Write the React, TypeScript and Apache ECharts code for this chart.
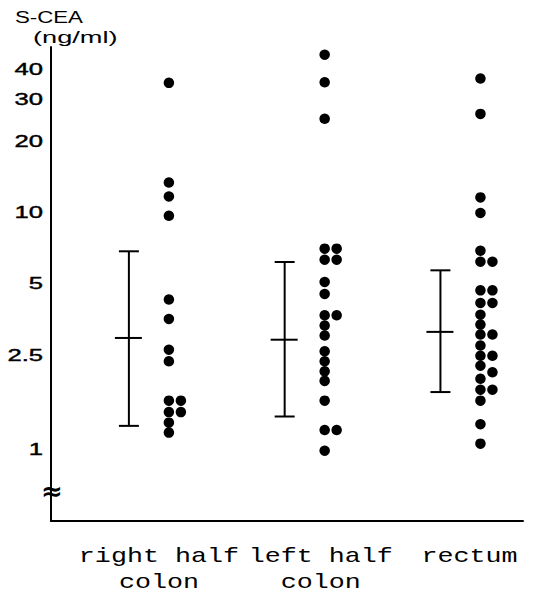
import React, { useEffect, useRef } from "react";
import * as echarts from "echarts";

// ---- data ----
const groups = ["right half\ncolon", "left half\ncolon", "rectum"];
const yTicks = [1, 2.5, 5, 10, 20, 30, 40];

// S-CEA values (ng/ml); "Side" holds the dots drawn beside the main column
const rightColonMain = [35.3, 13.4, 11.7, 9.7, 4.3, 3.56, 2.64, 2.36, 1.61, 1.44, 1.3, 1.18];
const rightColonSide = [1.61, 1.44];
const leftColonMain = [46.4, 35.5, 24.9, 7.05, 6.33, 5.1, 4.54, 3.69, 3.34, 3.03, 2.6, 2.36, 2.14, 1.95, 1.61, 1.21, 0.99];
const leftColonSide = [7.05, 6.33, 3.69, 1.21];
const rectumMain = [36.8, 26.1, 11.6, 9.97, 6.91, 6.21, 4.7, 4.16, 3.71, 3.37, 3.06, 2.75, 2.49, 2.26, 1.99, 1.79, 1.61, 1.28, 1.06];
const rectumSide = [6.21, 4.7, 4.16, 3.06, 2.49, 2.12, 1.79];

// mean and mean±SD range
const meanValues = [2.96, 2.91, 3.14];
const upperValues = [6.87, 6.19, 5.71];
const lowerValues = [1.26, 1.38, 1.75];

const X_MIN = -0.5;
const X_MAX = 2.53;
const Y_MIN = 0.5;
const Y_MAX = 50;

export default function App() {
  const ref = useRef<HTMLDivElement>(null);

  useEffect(() => {
    if (!ref.current) return;
    const chart = echarts.init(ref.current, undefined, { renderer: "svg" });

    const mainGroups = [rightColonMain, leftColonMain, rectumMain];
    const sideGroups = [rightColonSide, leftColonSide, rectumSide];
    const mainData: number[][] = [];
    mainGroups.forEach((arr, gi) => arr.forEach((v) => mainData.push([gi, v])));
    const sideData: number[][] = [];
    sideGroups.forEach((arr, gi) => arr.forEach((v) => sideData.push([gi, v])));

    const errData = groups.map((_, gi) => [gi, lowerValues[gi], meanValues[gi], upperValues[gi]]);
    const labelShift = [30, 36, 29];

    const option: any = {
      animation: false,
      backgroundColor: "#ffffff",
      grid: { left: 51, right: 12, top: 47, bottom: 72, containLabel: false },
      xAxis: {
        type: "value",
        min: X_MIN,
        max: X_MAX,
        axisLine: { show: true, onZero: false, lineStyle: { color: "#000", width: 2 } },
        axisTick: { show: false },
        axisLabel: { show: false },
        splitLine: { show: false },
      },
      yAxis: {
        type: "log",
        logBase: 10,
        min: Y_MIN,
        max: Y_MAX,
        axisLine: { show: true, onZero: false, lineStyle: { color: "#000", width: 2 } },
        axisTick: { show: false },
        axisLabel: { show: false },
        splitLine: { show: false },
      },
      graphic: [
        {
          type: "text",
          x: 15,
          y: 17,
          scaleX: 1.39,
          style: { text: "S-CEA", fontSize: 16, fontFamily: "Liberation Sans", fill: "#000", align: "left", verticalAlign: "middle" },
        },
        {
          type: "text",
          x: 33,
          y: 38,
          scaleX: 1.7,
          style: { text: "(ng/ml)", fontSize: 16, fontFamily: "Liberation Sans", fill: "#000", align: "left", verticalAlign: "middle" },
        },
        {
          type: "text",
          x: 52,
          y: 491,
          z: 100,
          style: { text: "≈", fontSize: 26, fontWeight: "bold", fontFamily: "DejaVu Sans", fill: "#000", align: "center", verticalAlign: "middle" },
        },
      ],
      series: [
        {
          type: "custom",
          name: "ticks",
          clip: false,
          data: yTicks.map((v) => [X_MIN, v]),
          encode: { x: 0, y: 1 },
          renderItem: (params: any, api: any) => {
            const p = api.coord([api.value(0), api.value(1)]);
            return {
              type: "text",
              x: p[0] - 8,
              y: p[1],
              scaleX: 1.6,
              style: {
                text: String(yTicks[params.dataIndex]),
                fontSize: 16,
                fontFamily: "Liberation Sans",
                fill: "#000",
                stroke: "#000",
                lineWidth: 0.4,
                align: "right",
                verticalAlign: "middle",
              },
            };
          },
        },
        {
          type: "custom",
          name: "categories",
          clip: false,
          data: groups.map((_, gi) => [gi, Y_MIN]),
          encode: { x: 0, y: 1 },
          renderItem: (params: any, api: any) => {
            const p = api.coord([api.value(0), api.value(1)]);
            return {
              type: "text",
              x: p[0] + labelShift[params.dataIndex],
              y: p[1] + 22,
              scaleX: 1.27,
              style: {
                text: groups[params.dataIndex],
                fontSize: 21,
                lineHeight: 26,
                fontFamily: "Liberation Mono",
                fill: "#000",
                align: "center",
                verticalAlign: "top",
              },
            };
          },
        },
        {
          type: "custom",
          name: "mean ± SD",
          clip: false,
          data: errData,
          encode: { x: 0, y: [1, 2, 3] },
          renderItem: (params: any, api: any) => {
            const gi = api.value(0);
            const lo = api.coord([gi, api.value(1)]);
            const mid = api.coord([gi, api.value(2)]);
            const hi = api.coord([gi, api.value(3)]);
            const x = lo[0];
            const st = { stroke: "#000", lineWidth: 2 };
            return {
              type: "group",
              children: [
                { type: "line", shape: { x1: x, y1: hi[1], x2: x, y2: lo[1] }, style: st },
                { type: "line", shape: { x1: x - 10, y1: hi[1], x2: x + 10, y2: hi[1] }, style: st },
                { type: "line", shape: { x1: x - 10, y1: lo[1], x2: x + 10, y2: lo[1] }, style: st },
                { type: "line", shape: { x1: x - 14, y1: mid[1], x2: x + 13, y2: mid[1] }, style: st },
              ],
            };
          },
        },
        {
          type: "scatter",
          name: "main",
          data: mainData,
          symbol: "circle",
          symbolSize: 10.5,
          symbolOffset: [40, 0],
          itemStyle: { color: "#000", opacity: 1 },
          clip: false,
        },
        {
          type: "scatter",
          name: "side",
          data: sideData,
          symbol: "circle",
          symbolSize: 10.5,
          symbolOffset: [52, 0],
          itemStyle: { color: "#000", opacity: 1 },
          clip: false,
        },
      ],
    };

    chart.setOption(option);
    return () => chart.dispose();
  }, []);

  return (
    <div
      ref={ref}
      style={{ position: "fixed", left: 0, top: 0, width: 535, height: 593, background: "#fff" }}
    />
  );
}
